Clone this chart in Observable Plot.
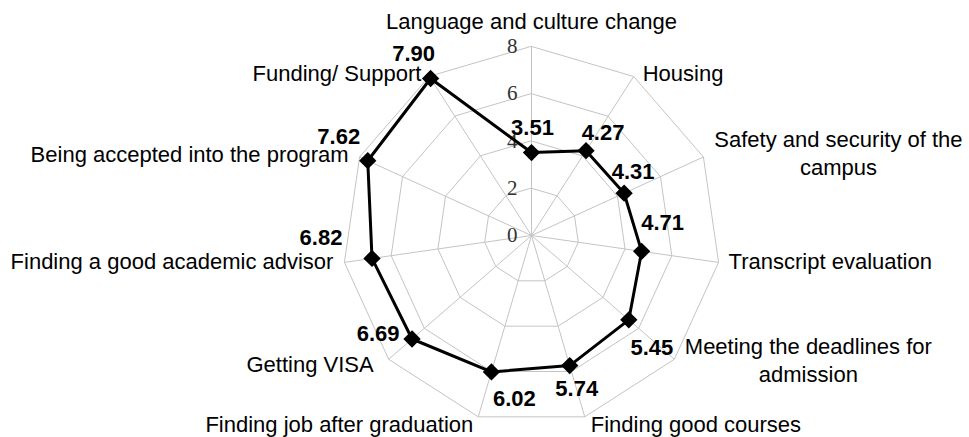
<!DOCTYPE html>
<html>
<head>
<meta charset="utf-8">
<script src="https://cdn.jsdelivr.net/npm/d3@7"></script>
<script src="https://cdn.jsdelivr.net/npm/@observablehq/plot@0.6"></script>
<style>
  html, body { margin: 0; padding: 0; background: #fff; }
  #chart svg { display: block; }
</style>
</head>
<body>
<div id="chart"></div>
<script>
// ---- data ----
const categories = [
  "Language and culture change",
  "Housing",
  "Safety and security of the\ncampus",
  "Transcript evaluation",
  "Meeting the deadlines for\nadmission",
  "Finding good courses",
  "Finding job after graduation",
  "Getting VISA",
  "Finding a good academic advisor",
  "Being accepted into the program",
  "Funding/ Support"
];
const values = [3.51, 4.27, 4.31, 4.71, 5.45, 5.74, 6.02, 6.69, 6.82, 7.62, 7.90];
const ringTicks = [0, 2, 4, 6, 8];
const gridRings = [2, 4, 6, 8];
const maxValue = 8;

// ---- layout (label nudges in px, relative to the scaled anchor point) ----
const valueLabelNudge = [[1,-25],[17,-18],[9,-21],[21,-28],[23,28],[7,23],[23,27],[-34,-5],[-51,-20],[-29,-24],[-17,-25]];
const categoryLabelLayout = [
  ["middle", 0, -26], ["start", 9, -4], ["middle", 135, -5], ["start", 10, -2],
  ["middle", 134, 0], ["start", 6, 6], ["end", -5, 6], ["end", -15, 4],
  ["end", -11, -2], ["end", -11, -4], ["end", -8, -4]
];

const n = categories.length;
const angle = i => (i * 2 * Math.PI) / n;
const px = (i, r) => r * Math.sin(angle(i));
const py = (i, r) => r * Math.cos(angle(i));

const points = values.map((v, i) => ({i, value: v, category: categories[i]}));
const ringVerts = gridRings.flatMap(level => categories.map((c, i) => ({level, i})));
const spokes = categories.map((c, i) => ({i, category: c}));

const sans = "'Liberation Sans', Arial, Helvetica, sans-serif";
const serif = "'Liberation Serif', 'Times New Roman', serif";

const cx = 531, cy = 235, R = 189;

const marks = [
  Plot.line(ringVerts, {
    x: d => px(d.i, d.level), y: d => py(d.i, d.level), z: "level",
    curve: "linear-closed", stroke: "#c4c4c4", strokeWidth: 1
  }),
  Plot.link(spokes, {
    x1: () => 0, y1: () => 0,
    x2: d => px(d.i, maxValue), y2: d => py(d.i, maxValue),
    stroke: "#c4c4c4", strokeWidth: 1
  }),
  Plot.text(ringTicks, {
    x: () => 0, y: d => d, text: d => String(d),
    textAnchor: "end", dx: -14, fontFamily: serif, fontSize: 21, fill: "#333"
  }),
  Plot.line(points, {
    x: d => px(d.i, d.value), y: d => py(d.i, d.value),
    curve: "linear-closed", stroke: "#000", strokeWidth: 3, strokeLinejoin: "miter"
  }),
  Plot.dot(points, {
    x: d => px(d.i, d.value), y: d => py(d.i, d.value),
    symbol: "diamond2", r: 7.8, fill: "#000", stroke: "none"
  }),
  ...points.map((p, k) => Plot.text([p], {
    x: d => px(d.i, d.value), y: d => py(d.i, d.value),
    text: d => d.value.toFixed(2),
    dx: valueLabelNudge[k][0], dy: valueLabelNudge[k][1],
    fontWeight: "bold", fontSize: 22, fontFamily: sans, fill: "#000"
  })),
  ...spokes.map((s, k) => Plot.text([s], {
    x: d => px(d.i, maxValue), y: d => py(d.i, maxValue),
    text: "category",
    textAnchor: categoryLabelLayout[k][0],
    dx: categoryLabelLayout[k][1], dy: categoryLabelLayout[k][2],
    lineHeight: 1.27, fontSize: 22, fontFamily: sans, fill: "#000"
  }))
];

const chart = Plot.plot({
  width: 969,
  height: 437,
  margin: 0,
  x: {domain: [-maxValue, maxValue], range: [cx - R, cx + R], axis: null},
  y: {domain: [-maxValue, maxValue], range: [cy + R, cy - R], axis: null},
  style: {fontFamily: sans, background: "#fff", overflow: "visible"},
  marks
});
document.getElementById("chart").appendChild(chart);
</script>
</body>
</html>
